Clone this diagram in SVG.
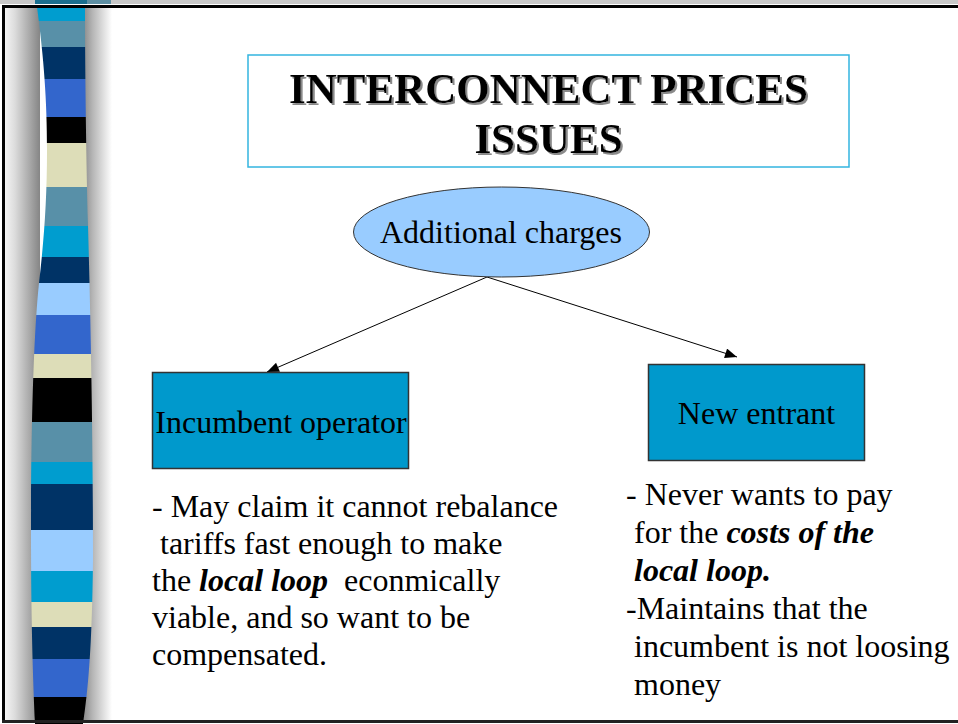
<svg xmlns="http://www.w3.org/2000/svg" width="958" height="724" viewBox="0 0 958 724">
<style>
.t{font-family:"Liberation Serif","Times New Roman",serif;fill:#000}
.title{font-size:43px;font-weight:bold;filter:url(#shadow)}
.node{font-size:32px}
.body{font-size:32px}
.bi{font-weight:bold;font-style:italic}
.box{fill:#0099CC;stroke:#333;stroke-width:1.5}
.conn{stroke:#000;stroke-width:1;fill:none;marker-end:url(#ah)}
</style>
<defs>
<filter id="shadow" x="-5%" y="-20%" width="110%" height="140%">
<feDropShadow dx="2" dy="2" stdDeviation="0.4" flood-color="#8a8a8a" flood-opacity="1"/>
</filter>
<linearGradient id="gl" x1="0" y1="0" x2="1" y2="0">
<stop offset="0" stop-color="#f6f6f6"/>
<stop offset="0.3" stop-color="#dcdcdc"/>
<stop offset="1" stop-color="#858585"/>
</linearGradient>
<linearGradient id="gr" x1="0" y1="0" x2="1" y2="0">
<stop offset="0" stop-color="#858585"/>
<stop offset="0.35" stop-color="#b5b5b5"/>
<stop offset="1" stop-color="#ffffff"/>
</linearGradient>
<clipPath id="stripeClip">
<path d="M37,7 C44,60 47,100 47,150 C47,200 44,240 39,283 C34,330 31,420 31,530 C31,620 33,680 35,724 L83,724 C88,690 92,650 93,560 C93,450 91,330 88,226 C86,150 85,60 85,7 Z"/>
</clipPath>
<marker id="ah" viewBox="0 0 12 10" refX="12" refY="5" markerWidth="13" markerHeight="10" markerUnits="userSpaceOnUse" orient="auto">
<path d="M0,0 L12,5 L0,10 Z" fill="#000"/>
</marker>
</defs>
<rect x="0" y="0" width="958" height="724" fill="#fff"/>
<g id="frame">
<rect x="0" y="0" width="958" height="4" fill="#c8c8c8"/>
<rect x="35" y="0" width="52" height="4" fill="#1a6f8f"/>
<rect x="87" y="0" width="24" height="4" fill="#5d8fa3"/>
<rect x="4" y="7" width="36" height="714" fill="url(#gl)"/>
<rect x="82" y="7" width="30" height="714" fill="url(#gr)"/>
<g clip-path="url(#stripeClip)">
<rect x="25" y="7" width="75" height="14" fill="#009DCF"/>
<rect x="25" y="21" width="75" height="26" fill="#5890A8"/>
<rect x="25" y="47" width="75" height="32" fill="#003366"/>
<rect x="25" y="79" width="75" height="38" fill="#3366CC"/>
<rect x="25" y="117" width="75" height="26" fill="#000000"/>
<rect x="25" y="143" width="75" height="44" fill="#DDDDB8"/>
<rect x="25" y="187" width="75" height="39" fill="#5890A8"/>
<rect x="25" y="226" width="75" height="31" fill="#009DCF"/>
<rect x="25" y="257" width="75" height="26" fill="#003366"/>
<rect x="25" y="283" width="75" height="32" fill="#99CCFF"/>
<rect x="25" y="315" width="75" height="39" fill="#3366CC"/>
<rect x="25" y="354" width="75" height="24" fill="#DDDDB8"/>
<rect x="25" y="378" width="75" height="44" fill="#000000"/>
<rect x="25" y="422" width="75" height="40" fill="#5890A8"/>
<rect x="25" y="462" width="75" height="22" fill="#009DCF"/>
<rect x="25" y="484" width="75" height="46" fill="#003366"/>
<rect x="25" y="530" width="75" height="41" fill="#99CCFF"/>
<rect x="25" y="571" width="75" height="31" fill="#009DCF"/>
<rect x="25" y="602" width="75" height="25" fill="#DDDDB8"/>
<rect x="25" y="627" width="75" height="32" fill="#003366"/>
<rect x="25" y="659" width="75" height="38" fill="#3366CC"/>
<rect x="25" y="697" width="75" height="27" fill="#000000"/>
</g>
<rect x="2" y="5" width="956" height="3" fill="#000"/>
<rect x="2" y="5" width="3" height="718" fill="#000"/>
<rect x="2" y="720" width="956" height="3" fill="#222"/>
</g>
<g id="title">
<rect x="248" y="55" width="601" height="112" fill="#fff" stroke="#33B5E0" stroke-width="1.5"/>
<text class="t title" x="548.5" y="103" text-anchor="middle">INTERCONNECT PRICES</text>
<text class="t title" x="548.5" y="153" text-anchor="middle">ISSUES</text>
</g>
<g id="connectors">
<line class="conn" x1="487" y1="277" x2="267" y2="372"/>
<line class="conn" x1="487" y1="277" x2="737" y2="357"/>
</g>
<g id="additional-charges">
<ellipse cx="501.5" cy="232" rx="148" ry="45" fill="#99CCFF" stroke="#333" stroke-width="1"/>
<text class="t node" x="501" y="243" text-anchor="middle">Additional charges</text>
</g>
<g id="incumbent-operator">
<rect class="box" x="152.5" y="372.5" width="256" height="96"/>
<text class="t node" x="281" y="433" text-anchor="middle">Incumbent operator</text>
</g>
<g id="new-entrant">
<rect class="box" x="648.5" y="364.5" width="216" height="96"/>
<text class="t node" x="756.5" y="424" text-anchor="middle">New entrant</text>
</g>
<g id="incumbent-notes">
<text class="t body" x="152" y="517" xml:space="preserve">- May claim it cannot rebalance</text>
<text class="t body" x="152" y="554" xml:space="preserve"> tariffs fast enough to make</text>
<text class="t body" x="152" y="591" xml:space="preserve">the <tspan class="bi">local loop</tspan>  econmically</text>
<text class="t body" x="152" y="628" xml:space="preserve">viable, and so want to be</text>
<text class="t body" x="152" y="665" xml:space="preserve">compensated.</text>
</g>
<g id="entrant-notes">
<text class="t body" x="626" y="505" xml:space="preserve">- Never wants to pay</text>
<text class="t body" x="626" y="543" xml:space="preserve"> for the <tspan class="bi">costs of the</tspan></text>
<text class="t body bi" x="626" y="581" xml:space="preserve"> local loop.</text>
<text class="t body" x="626" y="619" xml:space="preserve">-Maintains that the</text>
<text class="t body" x="626" y="657" xml:space="preserve"> incumbent is not loosing</text>
<text class="t body" x="626" y="695" xml:space="preserve"> money</text>
</g>
</svg>
